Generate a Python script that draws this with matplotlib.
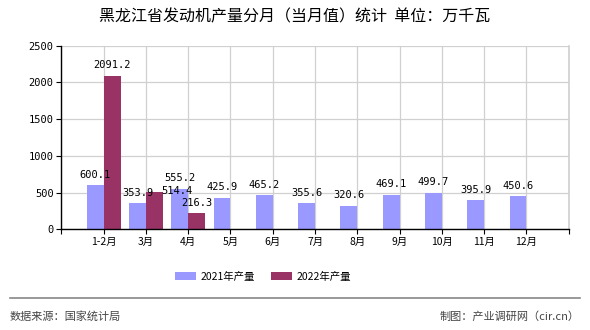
import matplotlib
matplotlib.use("Agg")
import matplotlib.pyplot as plt
import numpy as np

plt.rcParams['font.family'] = ['Noto Sans CJK SC', 'DejaVu Sans']

months = ["1-2月", "3月", "4月", "5月", "6月", "7月", "8月", "9月", "10月", "11月", "12月"]
output_2021 = [600.1, 353.9, 555.2, 425.9, 465.2, 355.6, 320.6, 469.1, 499.7, 395.9, 450.6]
output_2022 = [2091.2, 514.4, 216.3]
y_ticks = [0, 500, 1000, 1500, 2000, 2500]

c2021 = "#9999ff"
c2022 = "#993366"
grid_c = "#d0d0d0"
num_font = "DejaVu Sans Mono"

fig = plt.figure(figsize=(5.9, 3.3), dpi=100)
ax = fig.add_axes([0.104, 0.305, 0.860, 0.557])

x21 = np.arange(len(output_2021))
x22 = np.arange(len(output_2022))
w = 0.4

# 2021 bars sit just left of each tick, 2022 bars just right of it
b1 = ax.bar(x21, output_2021, width=-w, align="edge", color=c2021, label="2021年产量", zorder=2)
b2 = ax.bar(x22, output_2022, width=w, align="edge", color=c2022, label="2022年产量", zorder=2)

for xi, v in zip(x21, output_2021):
    ax.annotate(f"{v:.1f}", (xi - w / 2, v), xytext=(0, 4), textcoords="offset points",
                ha="center", va="bottom", fontsize=7.5, family=num_font, zorder=3)

# the 3月 label of 2022 is nudged right/down in the original to dodge its neighbour
offsets_2022 = [(0, 4), (16, -3), (0, 4)]
for xi, v, off in zip(x22, output_2022, offsets_2022):
    ax.annotate(f"{v:.1f}", (xi + w / 2, v), xytext=off, textcoords="offset points",
                ha="center", va="bottom", fontsize=7.5, family=num_font, zorder=3)

ax.set_xlim(-1, len(months))
ax.set_ylim(0, 2500)
ax.set_xticks(np.arange(-1, len(months) + 1))
ax.set_xticklabels([""] + months + [""], fontsize=7.5)
ax.set_yticks(y_ticks)
ax.set_yticklabels([str(t) for t in y_ticks], fontsize=7.5, family=num_font)

ax.grid(True, color=grid_c, linewidth=0.9, zorder=0)
ax.set_axisbelow(True)
ax.axvline(len(months), color=grid_c, linewidth=1.2, clip_on=False, zorder=0)
for s in ["top", "right"]:
    ax.spines[s].set_visible(False)
for s in ["left", "bottom"]:
    ax.spines[s].set_color("black")
    ax.spines[s].set_linewidth(1.0)
ax.tick_params(axis="both", length=3.5, width=0.8, color="black", pad=2)

fig.text(0.5, 0.948, "黑龙江省发动机产量分月（当月值）统计  单位：万千瓦",
         ha="center", va="center", fontsize=11.5)

fig.legend(handles=[b1, b2], loc="center", bbox_to_anchor=(0.446, 0.162), ncol=2,
           frameon=False, fontsize=7.5, handlelength=2.0, handleheight=0.8,
           columnspacing=1.6, handletextpad=0.4)

fig.add_artist(plt.Line2D([0.017, 0.983], [0.097, 0.097], color="#888888", linewidth=1.2))
fig.text(0.017, 0.042, "数据来源：国家统计局", ha="left", va="center", fontsize=8, color="#444444")
fig.text(0.983, 0.042, "制图：产业调研网（cir.cn）", ha="right", va="center", fontsize=8, color="#444444")

fig.savefig("out.png", dpi=100)
